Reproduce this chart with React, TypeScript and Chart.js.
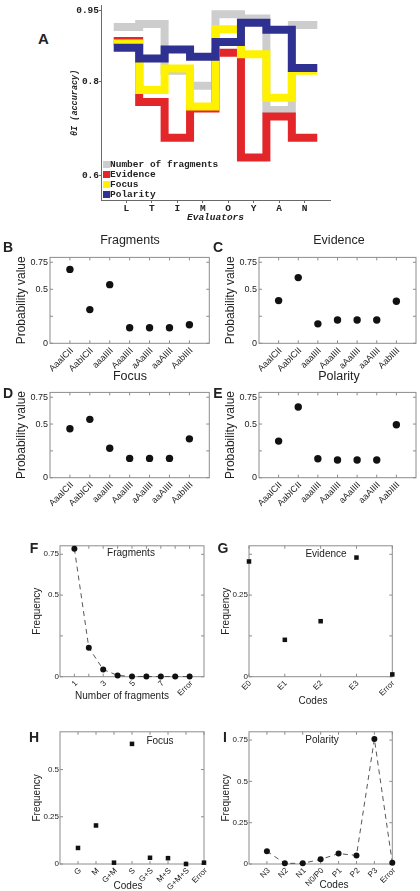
import React, { useEffect, useRef } from "react";
import { Chart, registerables } from "chart.js";

Chart.register(...registerables);

// ---------- Panel A data ----------
const evaluators = ["L", "T", "I", "M", "O", "Y", "A", "N"];
const accFragments = [0.915, 0.921, 0.822, 0.79, 0.942, 0.933, 0.739, 0.919];
const accEvidence = [0.885, 0.756, 0.68, 0.742, 0.86, 0.638, 0.725, 0.68];
const accFocus = [0.88, 0.781, 0.827, 0.746, 0.91, 0.857, 0.765, 0.822];
const accPolarity = [0.871, 0.848, 0.867, 0.852, 0.883, 0.924, 0.909, 0.828];
const accTicks = [0.6, 0.8, 0.95];
const accTickLabels = ["0.6", "0.8", "0.95"];

// ---------- Panels B-E data ----------
const modelLabels = ["AaaICII", "AabICII", "aaaIIII", "AaaIIII", "aAaIIII", "aaAIIII", "AabIIII"];
const probFragments = [0.684, 0.312, 0.543, 0.144, 0.144, 0.144, 0.171];
const probEvidence = [0.395, 0.608, 0.18, 0.215, 0.215, 0.215, 0.389];
const probFocus = [0.456, 0.544, 0.274, 0.18, 0.18, 0.18, 0.362];
const probPolarity = [0.341, 0.659, 0.176, 0.165, 0.165, 0.165, 0.494];
const probTicks = [0, 0.25, 0.5, 0.75];
const probTickLabels = ["0", "", "0.5", "0.75"];

// ---------- Panels F-I data ----------
const fragmentTickLabels = ["1", "", "3", "", "5", "", "7", "", "Error"];
const freqFragments = [0.784, 0.178, 0.044, 0.008, 0.001, 0.001, 0.001, 0.001, 0.001];
const evidenceCodes = ["E0", "E1", "E2", "E3", "Error"];
const freqEvidence = [0.353, 0.113, 0.17, 0.365, 0.007];
const focusCodes = ["G", "M", "G+M", "S", "G+S", "M+S", "G+M+S", "Error"];
const freqFocus = [0.085, 0.204, 0.007, 0.636, 0.033, 0.031, 0.0, 0.007];
const polarityCodes = ["N3", "N2", "N1", "N0/P0", "P1", "P2", "P3", "Error"];
const freqPolarity = [0.077, 0.004, 0.004, 0.028, 0.063, 0.052, 0.756, 0.007];

const SANS = "'Liberation Sans', Arial, Helvetica, sans-serif";
const MONO = "'Liberation Mono', 'Courier New', monospace";
const INK = "#222222";
const FRAME = "#8c8c8c";
const GRAY = "#cdcdcd";
const RED = "#e3262a";
const YELLOW = "#fff200";
const BLUE = "#2e3192";

type Rect = { cx: number; cy: number; cw: number; ch: number; l: number; t: number; r: number; b: number };

const range = (n: number, start: number) => Array.from({ length: n }, (_, i) => i + start);
const pts = (vals: number[], start: number) => vals.map((v, i) => ({ x: i + start, y: v }));
const stepData = (vals: number[]) => [
  { x: 0.5, y: vals[0] },
  ...vals.map((v, i) => ({ x: i + 1, y: v })),
  { x: vals.length + 0.5, y: vals[vals.length - 1] },
];

const boxPlugin = {
  id: "boxTicks",
  beforeDatasetsDraw(chart: any) {
    const { ctx, chartArea } = chart;
    const { left, top, right, bottom } = chartArea;
    const xs = chart.scales.x;
    const ys = chart.scales.y;
    ctx.save();
    ctx.strokeStyle = FRAME;
    ctx.lineWidth = 1;
    ctx.beginPath();
    xs.ticks.forEach((t: any) => {
      const px = xs.getPixelForValue(t.value);
      ctx.moveTo(px, bottom);
      ctx.lineTo(px, bottom - 3);
      ctx.moveTo(px, top);
      ctx.lineTo(px, top + 3);
    });
    ys.ticks.forEach((t: any) => {
      const py = ys.getPixelForValue(t.value);
      ctx.moveTo(left, py);
      ctx.lineTo(left + 3, py);
      ctx.moveTo(right, py);
      ctx.lineTo(right - 3, py);
    });
    ctx.stroke();
    ctx.strokeRect(left, top, right - left, bottom - top);
    ctx.restore();
  },
};

interface PanelSpec {
  rect: Rect;
  xMin: number;
  xMax: number;
  xTicks: number[];
  xLabels: string[];
  xFont: number;
  xLabelOffset: number;
  yMax: number;
  yTicks: number[];
  yLabels: string[];
  yFont: number;
  yTickPad: number;
  yTitle: string;
  yTitlePad: number;
  titleFont: number;
  datasets: any[];
}

function panelConfig(p: PanelSpec): any {
  const rect = p.rect;
  return {
    type: "scatter",
    data: { datasets: p.datasets },
    plugins: [boxPlugin],
    options: {
      animation: false,
      responsive: false,
      events: [],
      layout: { padding: { left: 0, top: rect.t - rect.cy, right: rect.cx + rect.cw - rect.r, bottom: 0 } },
      plugins: { legend: { display: false }, tooltip: { enabled: false } },
      scales: {
        x: {
          type: "linear",
          min: p.xMin,
          max: p.xMax,
          afterBuildTicks: (s: any) => {
            s.ticks = p.xTicks.map((v) => ({ value: v }));
          },
          afterFit: (s: any) => {
            s.height = rect.cy + rect.ch - rect.b;
          },
          grid: { display: false, drawTicks: false },
          border: { display: false },
          ticks: {
            autoSkip: false,
            minRotation: 45,
            maxRotation: 45,
            padding: 2,
            labelOffset: p.xLabelOffset,
            color: INK,
            font: { family: SANS, size: p.xFont },
            callback: (_v: any, i: number) => p.xLabels[i],
          },
          title: { display: false },
        },
        y: {
          type: "linear",
          min: 0,
          max: p.yMax,
          afterBuildTicks: (s: any) => {
            s.ticks = p.yTicks.map((v) => ({ value: v }));
          },
          afterFit: (s: any) => {
            s.width = rect.l - rect.cx;
          },
          grid: { display: false, drawTicks: false },
          border: { display: false },
          ticks: {
            autoSkip: false,
            padding: p.yTickPad,
            color: INK,
            font: { family: SANS, size: p.yFont },
            callback: (_v: any, i: number) => p.yLabels[i],
          },
          title: {
            display: true,
            text: p.yTitle,
            color: INK,
            font: { family: SANS, size: p.titleFont },
            padding: { top: p.yTitlePad, bottom: 0 },
          },
        },
      },
    },
  };
}

const dots = (vals: number[], start: number, radius: number, style = "circle") => ({
  data: pts(vals, start),
  pointStyle: style,
  pointRadius: radius,
  pointBackgroundColor: "#111111",
  pointBorderWidth: 0,
  clip: false,
});

const dashedDots = (vals: number[], start: number, radius: number) => ({
  ...dots(vals, start, radius),
  showLine: true,
  borderColor: "#444444",
  borderWidth: 0.9,
  borderDash: [5, 4],
});

// ---------- Panel A config ----------
const aRect: Rect = { cx: 56, cy: 0, cw: 290, ch: 224, l: 101, t: 2, r: 330, b: 200 };

function panelAConfig(): any {
  const base = {
    stepped: "middle",
    borderWidth: 8,
    pointRadius: 0,
    borderJoinStyle: "miter",
    borderCapStyle: "butt",
    fill: false,
    clip: false,
  };
  return {
    type: "line",
    data: {
      datasets: [
        { ...base, label: "Number of fragments", data: stepData(accFragments), borderColor: GRAY, order: 4 },
        { ...base, label: "Evidence", data: stepData(accEvidence), borderColor: RED, order: 3 },
        { ...base, label: "Focus", data: stepData(accFocus), borderColor: YELLOW, order: 2 },
        { ...base, label: "Polarity", data: stepData(accPolarity), borderColor: BLUE, order: 1 },
      ],
    },
    options: {
      animation: false,
      responsive: false,
      events: [],
      layout: { padding: { left: 0, top: aRect.t - aRect.cy, right: aRect.cx + aRect.cw - aRect.r, bottom: 0 } },
      plugins: { legend: { display: false }, tooltip: { enabled: false } },
      scales: {
        x: {
          type: "linear",
          min: 0,
          max: 9,
          afterBuildTicks: (s: any) => {
            s.ticks = range(evaluators.length, 1).map((v) => ({ value: v }));
          },
          afterFit: (s: any) => {
            s.height = aRect.cy + aRect.ch - aRect.b;
          },
          grid: { display: true, drawOnChartArea: false, drawTicks: true, tickLength: 3, color: "#6a6a6a" },
          border: { display: true, color: "#6a6a6a", width: 1 },
          ticks: {
            autoSkip: false,
            maxRotation: 0,
            minRotation: 0,
            padding: 0,
            color: INK,
            font: { family: MONO, size: 9.5, weight: "bold" },
            callback: (_v: any, i: number) => evaluators[i],
          },
          title: {
            display: true,
            text: "Evaluators",
            color: INK,
            font: { family: MONO, size: 9.5, weight: "bold", style: "italic" },
            padding: { top: 0, bottom: 0.5 },
          },
        },
        y: {
          type: "linear",
          min: 0.548,
          max: 0.96,
          afterBuildTicks: (s: any) => {
            s.ticks = accTicks.map((v) => ({ value: v }));
          },
          afterFit: (s: any) => {
            s.width = aRect.l - aRect.cx;
          },
          grid: { display: true, drawOnChartArea: false, drawTicks: true, tickLength: 2, color: "#6a6a6a" },
          border: { display: true, color: "#6a6a6a", width: 1 },
          ticks: {
            autoSkip: false,
            padding: 0,
            color: INK,
            font: { family: MONO, size: 9.5, weight: "bold" },
            callback: (_v: any, i: number) => accTickLabels[i],
          },
          title: {
            display: true,
            text: "θI (accuracy)",
            color: INK,
            font: { family: MONO, size: 8.5, weight: "bold", style: "italic" },
            padding: { top: 13.5, bottom: 0 },
          },
        },
      },
    },
  };
}

// ---------- Panels B-I ----------
const probPanel = (rect: Rect, vals: number[]): PanelSpec => ({
  rect,
  xMin: 0,
  xMax: 8,
  xTicks: range(modelLabels.length, 1),
  xLabels: modelLabels,
  xFont: 9,
  xLabelOffset: 2,
  yMax: 0.795,
  yTicks: probTicks,
  yLabels: probTickLabels,
  yFont: 9,
  yTickPad: 2,
  yTitle: "Probability value",
  yTitlePad: 2.8,
  titleFont: 12,
  datasets: [dots(vals, 1, 3.7)],
});

const bRect: Rect = { cx: 12, cy: 250, cw: 205, ch: 128, l: 50, t: 253.3, r: 209.3, b: 343.3 };
const cRect: Rect = { cx: 221, cy: 250, cw: 199, ch: 128, l: 259, t: 253.3, r: 418.3, b: 343.3 };
const dRect: Rect = { cx: 12, cy: 385, cw: 205, ch: 128, l: 50, t: 387.7, r: 209.3, b: 477.7 };
const eRect: Rect = { cx: 221, cy: 385, cw: 199, ch: 128, l: 259, t: 387.7, r: 418.3, b: 477.7 };
const fRect: Rect = { cx: 25, cy: 540, cw: 190, ch: 162, l: 60, t: 543, r: 204, b: 676.7 };
const gRect: Rect = { cx: 214, cy: 540, cw: 206, ch: 167, l: 249, t: 543, r: 392.3, b: 676.7 };
const hRect: Rect = { cx: 25, cy: 726, cw: 190, ch: 165, l: 60, t: 729.3, r: 204, b: 864 };
const iRect: Rect = { cx: 214, cy: 726, cw: 206, ch: 165, l: 249, t: 729.3, r: 392.3, b: 864 };

const panels: { rect: Rect; make: () => any }[] = [
  { rect: aRect, make: panelAConfig },
  { rect: bRect, make: () => panelConfig(probPanel(bRect, probFragments)) },
  { rect: cRect, make: () => panelConfig(probPanel(cRect, probEvidence)) },
  { rect: dRect, make: () => panelConfig(probPanel(dRect, probFocus)) },
  { rect: eRect, make: () => panelConfig(probPanel(eRect, probPolarity)) },
  {
    rect: fRect,
    make: () =>
      panelConfig({
        rect: fRect,
        xMin: 0,
        xMax: 10,
        xTicks: range(fragmentTickLabels.length, 1),
        xLabels: fragmentTickLabels,
        xFont: 8,
        xLabelOffset: 2,
        yMax: 0.802,
        yTicks: [0, 0.25, 0.5, 0.75],
        yLabels: ["0", "", "0.5", "0.75"],
        yFont: 8,
        yTickPad: 1,
        yTitle: "Frequency",
        yTitlePad: 6,
        titleFont: 10,
        datasets: [dashedDots(freqFragments, 1, 3)],
      }),
  },
  {
    rect: gRect,
    make: () =>
      panelConfig({
        rect: gRect,
        xMin: 0,
        xMax: 4,
        xTicks: range(evidenceCodes.length, 0),
        xLabels: evidenceCodes,
        xFont: 8,
        xLabelOffset: 1,
        yMax: 0.401,
        yTicks: [0, 0.125, 0.25, 0.375],
        yLabels: ["0", "", "0.25", ""],
        yFont: 8,
        yTickPad: 1,
        yTitle: "Frequency",
        yTitlePad: 6,
        titleFont: 10,
        datasets: [dots(freqEvidence, 0, 3.2, "rect")],
      }),
  },
  {
    rect: hRect,
    make: () =>
      panelConfig({
        rect: hRect,
        xMin: 0,
        xMax: 8,
        xTicks: range(focusCodes.length, 1),
        xLabels: focusCodes,
        xFont: 8,
        xLabelOffset: 2,
        yMax: 0.7,
        yTicks: [0, 0.25, 0.5],
        yLabels: ["0", "0.25", "0.5"],
        yFont: 8,
        yTickPad: 1,
        yTitle: "Frequency",
        yTitlePad: 6,
        titleFont: 10,
        datasets: [dots(freqFocus, 1, 3.2, "rect")],
      }),
  },
  {
    rect: iRect,
    make: () =>
      panelConfig({
        rect: iRect,
        xMin: 0,
        xMax: 8,
        xTicks: range(polarityCodes.length, 1),
        xLabels: polarityCodes,
        xFont: 8,
        xLabelOffset: 2,
        yMax: 0.8,
        yTicks: [0, 0.25, 0.5, 0.75],
        yLabels: ["0", "0.25", "0.5", "0.75"],
        yFont: 8,
        yTickPad: 1,
        yTitle: "Frequency",
        yTitlePad: 6,
        titleFont: 10,
        datasets: [dashedDots(freqPolarity, 1, 3)],
      }),
  },
];

function ChartBox({ rect, make }: { rect: Rect; make: () => any }) {
  const ref = useRef<HTMLCanvasElement>(null);
  useEffect(() => {
    if (!ref.current) return;
    const chart = new Chart(ref.current, make());
    return () => chart.destroy();
  }, []);
  return (
    <canvas
      ref={ref}
      width={rect.cw}
      height={rect.ch}
      style={{ position: "absolute", left: rect.cx, top: rect.cy, width: rect.cw, height: rect.ch }}
    />
  );
}

function Txt({ x, y, size, text, bold, family, align }: { x: number; y: number; size: number; text: string; bold?: boolean; family?: string; align?: "left" | "center" }) {
  return (
    <div
      style={{
        position: "absolute",
        left: x,
        top: y,
        transform: align === "left" ? "translate(0,-50%)" : "translate(-50%,-50%)",
        fontFamily: family || SANS,
        fontSize: size,
        fontWeight: bold ? "bold" : "normal",
        lineHeight: 1,
        whiteSpace: "nowrap",
        color: INK,
      }}
    >
      {text}
    </div>
  );
}

const legendA = [
  { label: "Number of fragments", color: GRAY },
  { label: "Evidence", color: RED },
  { label: "Focus", color: YELLOW },
  { label: "Polarity", color: BLUE },
];

export default function App() {
  return (
    <div style={{ position: "absolute", left: 0, top: 0, width: 420, height: 891, background: "#ffffff", overflow: "hidden" }}>
      {panels.map((p, i) => (
        <ChartBox key={i} rect={p.rect} make={p.make} />
      ))}
      {legendA.map((item, i) => (
        <React.Fragment key={item.label}>
          <div style={{ position: "absolute", left: 103, top: 161 + i * 10, width: 6.5, height: 7, background: item.color }} />
          <Txt x={110} y={164.8 + i * 10} size={9.5} text={item.label} bold family={MONO} align="left" />
        </React.Fragment>
      ))}
      <Txt x={43.5} y={38} size={15} text="A" bold />
      <Txt x={8} y={247} size={14} text="B" bold />
      <Txt x={218} y={247} size={14} text="C" bold />
      <Txt x={8} y={393} size={14} text="D" bold />
      <Txt x={218} y={393} size={14} text="E" bold />
      <Txt x={34} y={548} size={14} text="F" bold />
      <Txt x={223} y={548} size={14} text="G" bold />
      <Txt x={34} y={737} size={14} text="H" bold />
      <Txt x={225} y={737} size={14} text="I" bold />
      <Txt x={130} y={240} size={12.5} text="Fragments" />
      <Txt x={339} y={240} size={12.5} text="Evidence" />
      <Txt x={130} y={376} size={12.5} text="Focus" />
      <Txt x={339} y={376} size={12.5} text="Polarity" />
      <Txt x={131} y={552.5} size={10} text="Fragments" />
      <Txt x={326} y={554} size={10} text="Evidence" />
      <Txt x={160} y={741} size={10} text="Focus" />
      <Txt x={322} y={740} size={10} text="Polarity" />
      <Txt x={122} y={696} size={10} text="Number of fragments" />
      <Txt x={313} y={701} size={10} text="Codes" />
      <Txt x={128} y={886} size={10} text="Codes" />
      <Txt x={334} y={885} size={10} text="Codes" />
    </div>
  );
}
